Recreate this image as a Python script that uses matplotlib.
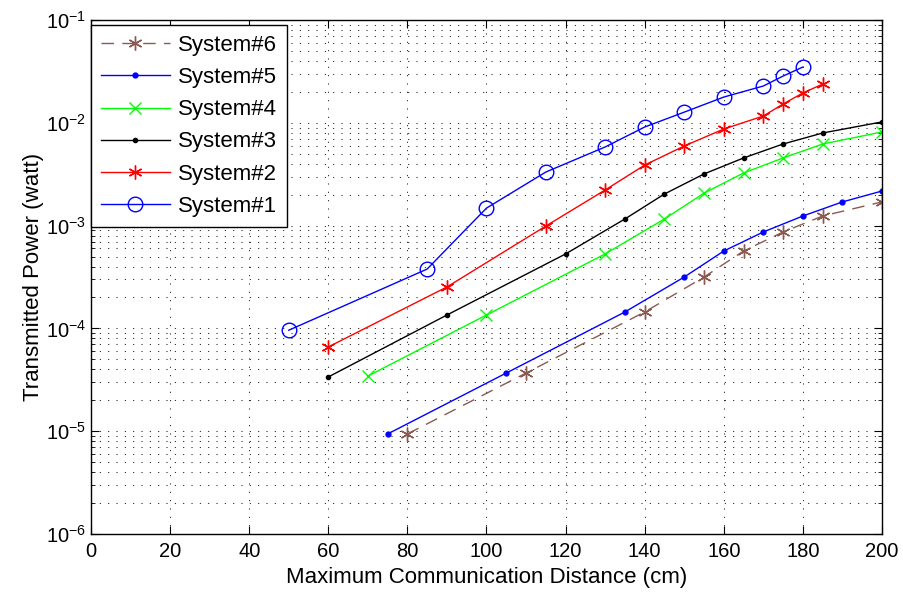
import matplotlib
matplotlib.use("Agg")
import matplotlib.pyplot as plt
from matplotlib.ticker import LogLocator, MultipleLocator, NullFormatter

plt.rcParams['font.family'] = ['Liberation Sans', 'DejaVu Sans']
plt.rcParams['mathtext.fontset'] = 'custom'
plt.rcParams['mathtext.rm'] = 'Liberation Sans'
plt.rcParams['mathtext.it'] = 'Liberation Sans'

# ---- data ----
x1 = [50, 85, 100, 115, 130, 140, 150, 160, 170, 175, 180]
y1 = [9.6e-5, 3.78e-4, 1.48e-3, 3.32e-3, 5.82e-3, 9.1e-3, 1.27e-2, 1.78e-2, 2.28e-2, 2.85e-2, 3.49e-2]

x2 = [60, 90, 115, 130, 140, 150, 160, 170, 175, 180, 185]
y2 = [6.6e-5, 2.53e-4, 9.9e-4, 2.22e-3, 3.88e-3, 5.95e-3, 8.7e-3, 1.164e-2, 1.524e-2, 1.95e-2, 2.38e-2]

x3 = [60, 90, 120, 135, 145, 155, 165, 175, 185, 200]
y3 = [3.37e-5, 1.35e-4, 5.3e-4, 1.16e-3, 2.03e-3, 3.18e-3, 4.55e-3, 6.22e-3, 7.96e-3, 1.02e-2]

x4 = [70, 100, 130, 145, 155, 165, 175, 185, 200]
y4 = [3.44e-5, 1.35e-4, 5.3e-4, 1.16e-3, 2.07e-3, 3.25e-3, 4.55e-3, 6.22e-3, 8.14e-3]

x5 = [75, 105, 135, 150, 160, 170, 180, 190, 200]
y5 = [9.4e-6, 3.68e-5, 1.445e-4, 3.16e-4, 5.66e-4, 8.67e-4, 1.24e-3, 1.70e-3, 2.17e-3]

x6 = [80, 110, 140, 155, 165, 175, 185, 200]
y6 = [9.4e-6, 3.68e-5, 1.445e-4, 3.16e-4, 5.66e-4, 8.67e-4, 1.24e-3, 1.70e-3]

labels = ['System#1', 'System#2', 'System#3', 'System#4', 'System#5', 'System#6']

fig = plt.figure(figsize=(9.04, 5.94), dpi=100)
ax = fig.add_axes([91/904, 1-534/594, (882-91)/904, (534-20)/594])

h1, = ax.plot(x1, y1, color='#0000ff', lw=1.0, marker='o', ms=10.5, mfc='none', mew=1.0, label=labels[0])
h2, = ax.plot(x2, y2, color='#ff0000', lw=1.0, marker=(6, 2, 0), ms=10, mew=1.0, label=labels[1])
h3, = ax.plot(x3, y3, color='black', lw=1.0, marker='.', ms=6, label=labels[2])
h4, = ax.plot(x4, y4, color='#00ff00', lw=1.0, marker='x', ms=9, mew=1.0, label=labels[3])
h5, = ax.plot(x5, y5, color='#0000ff', lw=1.0, marker='.', ms=7, label=labels[4])
h6, = ax.plot(x6, y6, color='#8a5a52', lw=1.0, ls=(0, (9, 6)), marker=(6, 2, 0), ms=10, mew=1.0, label=labels[5])

ax.set_yscale('log')
ax.set_xlim(0, 200)
ax.set_ylim(1e-6, 1e-1)
ax.xaxis.set_major_locator(MultipleLocator(20))
ax.yaxis.set_major_locator(LogLocator(base=10, numticks=10))
ax.yaxis.set_minor_locator(LogLocator(base=10, subs=range(2, 10), numticks=20))
ax.yaxis.set_minor_formatter(NullFormatter())

ax.grid(True, which='major', axis='both', color='0.1', linestyle=(0, (1, 7)), lw=0.75)
ax.grid(True, which='minor', axis='y', color='0.1', linestyle=(0, (1, 7)), lw=0.75)

ax.tick_params(which='both', direction='in', top=True, right=True, labelsize=14.5)
ax.tick_params(which='major', length=6)
ax.tick_params(which='minor', length=3)
ax.tick_params(axis='x', pad=6)
for s in ax.spines.values():
    s.set_linewidth(1.0)

ax.set_xlabel('Maximum Communication Distance (cm)', fontsize=16, labelpad=4)
ax.set_ylabel('Transmitted Power (watt)', fontsize=16, labelpad=1)

leg = ax.legend([h6, h5, h4, h3, h2, h1], [labels[5], labels[4], labels[3], labels[2], labels[1], labels[0]],
                loc='upper left', bbox_to_anchor=(0, 0.99), borderaxespad=0,
                fontsize=16, handlelength=3.1, handletextpad=0.35, labelspacing=0.5,
                fancybox=False, framealpha=1, edgecolor='black', borderpad=0.45)
leg.get_frame().set_linewidth(1.0)

fig.savefig('out.png', dpi=100)
